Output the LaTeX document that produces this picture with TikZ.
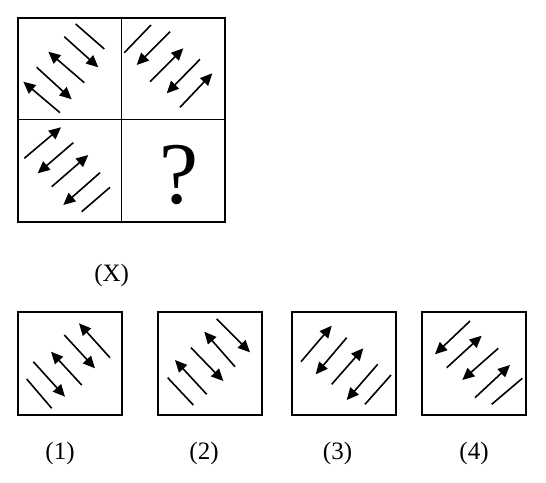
\documentclass[tikz,border=0pt]{standalone}
\usepackage{fontspec}
\setmainfont{Liberation Serif}
\usetikzlibrary{arrows.meta}
\tikzset{
  bare/.style={line width=1.6pt},
  arrowed/.style={line width=1.6pt,-{Triangle[length=12pt,width=11pt]}},
  frame/.style={line width=1.8pt},
  lbl/.style={font=\fontsize{25}{25}\selectfont,inner sep=0pt},
}

\begin{document}
\begin{tikzpicture}[x=1pt,y=-1pt]
  \useasboundingbox (0,0) rectangle (546,482);
  % question figure
  \draw[frame] (18,18) rectangle (225,222);
  \draw[frame] (121.5,18) -- (121.5,222) (18,119.5) -- (225,119.5);
  \foreach \sx/\sy/\ex/\ey/\s in {
      75.7/24/104.3/49/bare, 64.3/36.7/98.3/67.3/arrowed, 84.3/82.7/48.3/51.7/arrowed,
      36.7/67.3/71.7/99.3/arrowed, 60/112.7/23.3/81.7/arrowed,
      124.3/52.7/151/25/bare, 170/31.7/136.7/65/arrowed, 150/81.7/183.3/48.3/arrowed,
      200/59.3/166.7/93.3/arrowed, 180/107.3/212.3/73.3/arrowed,
      24.3/158.3/61/127.3/arrowed, 73.3/142.7/37.7/173.3/arrowed, 51.7/186.7/88.3/155/arrowed,
      100/172.7/63.3/205/arrowed, 81.7/211.7/110/187.3/bare}{
    \draw[\s] (\sx,\sy) -- (\ex,\ey);
  }
  \node[font=\fontsize{88}{88}\selectfont,inner sep=0pt] (qmark) at (179,175) {?};
  \node[lbl] (xlabel) at (111.7,275.8) {(X)};
  % answer figures
  \foreach \l/\r/\n/\c in {18.3/121.7/1/60, 158.3/261.7/2/204, 292.3/395.7/3/337.5, 421.7/525.7/4/474}{
    \draw[frame] (\l,312) rectangle (\r,415);
    \node[lbl] (opt\n) at (\c,453) {(\n)};
  }
  \foreach \sx/\sy/\ex/\ey/\s in {
      26.7/379/51.7/408.3/bare, 33.3/361.7/65/396.7/arrowed, 81.7/385/51/351.7/arrowed,
      64.3/335/95/368.3/arrowed, 110/357.7/79/323.3/arrowed,
      167.7/377.7/193.3/405/bare, 206.7/394.3/175/360/arrowed, 191/347.7/223.3/381/arrowed,
      235/366.7/204.3/331.7/arrowed, 216.7/319/250/352.3/arrowed,
      301/361.7/331.7/325.7/arrowed, 346.7/337.7/315.7/374.3/arrowed, 331.7/384.3/363.3/348.3/arrowed,
      377.7/364.3/346.7/400/arrowed, 365/404.3/391/375/bare,
      470/321/435/354.3/arrowed, 446.7/367.7/481.7/335.7/arrowed, 498.3/348.3/462.3/380/arrowed,
      475/397.7/510/365/arrowed, 491.7/404.3/522.3/378.3/bare}{
    \draw[\s] (\sx,\sy) -- (\ex,\ey);
  }
\end{tikzpicture}
\end{document}
